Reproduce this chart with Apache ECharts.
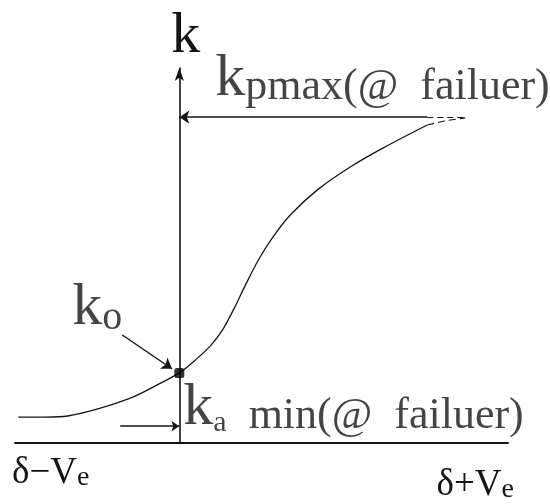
<!DOCTYPE html>
<html>
<head>
<meta charset="utf-8">
<script src="https://cdn.jsdelivr.net/npm/echarts@6/dist/echarts.min.js"></script>
<style>
  html, body { margin: 0; padding: 0; background: #fff; }
  #chart { width: 550px; height: 504px; }
</style>
</head>
<body>
<div id="chart"></div>
<script>
// Stiffness k against displacement, between δ−Ve and δ+Ve (k axis sits at δ = 0)
const xDomain = [-1, 2];
const yDomain = [0, 1];

// S-shaped stiffness curve (solid part)
const curveX = [-0.98, -0.815, -0.68, -0.48, -0.28, -0.134, 0, 0.097, 0.189, 0.262, 0.329, 0.402, 0.481, 0.566, 0.675, 0.84, 1.04, 1.241, 1.509];
const curveY = [0.069, 0.069, 0.072, 0.093, 0.123, 0.155, 0.187, 0.221, 0.259, 0.301, 0.355, 0.421, 0.488, 0.547, 0.608, 0.675, 0.736, 0.787, 0.848];
// dashed tail approaching kpmax
const tailX = [1.509, 1.619, 1.74];
const tailY = [0.848, 0.859, 0.867];

// initial stiffness point k0
const k0Point = [0, 0.187];
// kpmax level and the arrow pointing back to the k axis
const kPmax = 0.869;
const kPmaxArrowFrom = 1.509;
const kPmaxDashEnd = 1.74;
// ka min level and its arrow
const kAmin = 0.045;
const kAminArrowFrom = -0.36;
// k0 leader arrow
const k0ArrowFrom = [-0.347, 0.288];
const k0ArrowTo = [-0.045, 0.198];

// end labels on the displacement axis
const xTickLabels = ['{mL|δ−V}{eL|e}', '{mR|δ+V}{eR|e}'];

const INK = '#151515';
const SERIF = '"Liberation Serif", "DejaVu Serif", serif';

const zip = (xs, ys) => xs.map((x, i) => [x, ys[i]]);

const richText = {
  K:   { fontFamily: SERIF, fontSize: 60, lineHeight: 60, color: INK, verticalAlign: 'bottom' },
  b:   { fontFamily: SERIF, fontSize: 44, lineHeight: 44, color: INK, verticalAlign: 'bottom' },
  sub: { fontFamily: SERIF, fontSize: 40, lineHeight: 32, color: INK, verticalAlign: 'bottom' },
  suba:{ fontFamily: SERIF, fontSize: 30, lineHeight: 20, color: INK, verticalAlign: 'bottom' }
};

const chart = echarts.init(document.getElementById('chart'), null, { renderer: 'canvas' });

chart.setOption({
  animation: false,
  backgroundColor: '#fff',
  grid: { left: 15, right: 42, top: 68, bottom: 61, outerBoundsMode: 'none', containLabel: false },
  xAxis: {
    type: 'value',
    min: xDomain[0],
    max: xDomain[1],
    interval: xDomain[1] - xDomain[0],
    axisLine: { show: true, onZero: true, lineStyle: { color: INK, width: 1.8 } },
    axisTick: { show: false },
    splitLine: { show: false },
    axisLabel: {
      show: true,
      margin: 12,
      alignMinLabel: 'left',
      alignMaxLabel: 'right',
      formatter: (v, i) => xTickLabels[i],
      rich: {
        mL: { fontFamily: SERIF, fontSize: 37, lineHeight: 37, color: INK, verticalAlign: 'bottom', padding: [0, 0, 0, -3] },
        eL: { fontFamily: SERIF, fontSize: 28, lineHeight: 16, color: INK, verticalAlign: 'bottom' },
        mR: { fontFamily: SERIF, fontSize: 37, lineHeight: 49, color: INK, verticalAlign: 'bottom' },
        eR: { fontFamily: SERIF, fontSize: 28, lineHeight: 28, color: INK, verticalAlign: 'bottom', padding: [0, -6, 0, 0] }
      }
    }
  },
  yAxis: {
    type: 'value',
    min: yDomain[0],
    max: yDomain[1],
    name: 'k',
    nameLocation: 'end',
    nameGap: 2,
    nameTextStyle: { fontFamily: SERIF, fontSize: 58, color: INK, align: 'left', padding: [0, 0, 0, -8] },
    axisLine: {
      show: true,
      onZero: true,
      symbol: ['none', 'arrow'],
      symbolSize: [7, 13],
      lineStyle: { color: INK, width: 1.6 }
    },
    axisTick: { show: false },
    axisLabel: { show: false },
    splitLine: { show: false }
  },
  series: [
    {
      name: 'k curve',
      type: 'line',
      data: zip(curveX, curveY),
      smooth: 0.3,
      showSymbol: false,
      lineStyle: { color: INK, width: 1.3 },
      z: 3
    },
    {
      name: 'k curve tail',
      type: 'line',
      data: zip(tailX, tailY),
      smooth: 0.3,
      showSymbol: false,
      lineStyle: { color: INK, width: 1.1, type: [7, 4] },
      z: 3
    },
    {
      name: 'k0',
      type: 'scatter',
      data: [k0Point],
      symbol: 'roundRect',
      symbolSize: 10,
      itemStyle: { color: '#000' },
      z: 6
    },
    {
      name: 'arrows',
      type: 'lines',
      coordinateSystem: 'cartesian2d',
      symbol: ['none', 'arrow'],
      symbolSize: 10,
      lineStyle: { color: INK, width: 1.5, opacity: 1, curveness: 0 },
      data: [
        { coords: [[kPmaxArrowFrom, kPmax], [0, kPmax]] },
        { coords: [[kAminArrowFrom, kAmin], [0, kAmin]], symbolSize: 8 },
        { coords: [k0ArrowFrom, k0ArrowTo] }
      ],
      z: 4
    },
    {
      name: 'kpmax dashes',
      type: 'lines',
      coordinateSystem: 'cartesian2d',
      symbol: ['none', 'none'],
      lineStyle: { color: INK, width: 1.2, opacity: 1, type: [6, 4] },
      data: [{ coords: [[kPmaxArrowFrom, kPmax], [kPmaxDashEnd, kPmax]] }],
      z: 4
    },
    {
      name: 'annotations',
      type: 'scatter',
      symbolSize: 0,
      silent: true,
      label: {
        show: true,
        position: 'inside',
        align: 'left',
        verticalAlign: 'bottom',
        rich: richText
      },
      data: [
        { value: [0, kPmax], label: { formatter: '{K|k}{b|pmax(@  failuer)}', offset: [36, -8] } },
        { value: k0ArrowFrom, label: { formatter: '{K|k}{sub|o}', offset: [-50, 3] } },
        { value: [0, kAmin], label: { formatter: '{K|k}{suba|a}{b|  min(@  failuer)}', offset: [4, 12] } }
      ],
      z: 5
    }
  ]
});
</script>
</body>
</html>
